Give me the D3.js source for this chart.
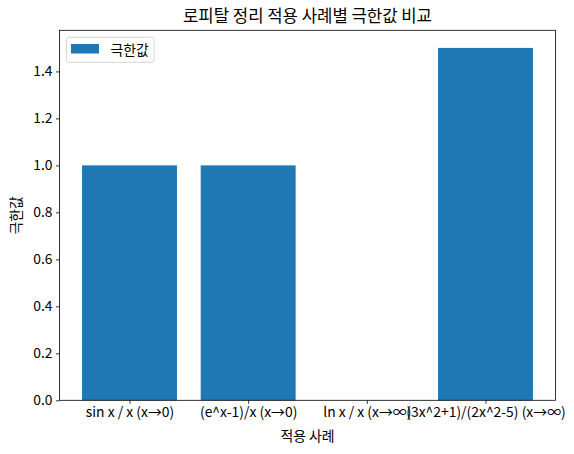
<!DOCTYPE html>
<html><head><meta charset="utf-8">
<script src="https://cdn.jsdelivr.net/npm/d3@7"></script>
<style>
body{margin:0;background:#fff;}
text{font-family:"Noto Sans CJK KR","Noto Sans",sans-serif;fill:#000;}
</style></head>
<body><svg id="c" width="574" height="454"></svg>
<script>
const categories = ["sin x / x (x→0)", "(e^x-1)/x (x→0)", "ln x / x (x→∞)", "(3x^2+1)/(2x^2-5) (x→∞)"];
const limitValues = [1.0, 1.0, 0.0, 1.5];
const yTicks = [0.0, 0.2, 0.4, 0.6, 0.8, 1.0, 1.2, 1.4];
const titleText = "로피탈 정리 적용 사례별 극한값 비교";
const xLabel = "적용 사례";
const yLabel = "극한값";
const legendLabel = "극한값";

const svg = d3.select("#c");
const L = 59.5, R = 555.5, T = 30.3, B = 400.3;
const fs = 13.9;
const x = d3.scaleLinear().domain([-0.59, categories.length - 1 + 0.59]).range([L, R]);
const y = d3.scaleLinear().domain([0, 1.575]).range([B, T]);
const bw = 0.8;
const color = "#1f77b4";

svg.append("g").selectAll("rect").data(limitValues).join("rect")
  .attr("x", (d,i) => x(i - bw/2)).attr("width", (d,i) => x(i + bw/2) - x(i - bw/2))
  .attr("y", d => y(d)).attr("height", d => y(0) - y(d)).attr("fill", color);

// axes
const yAxis = d3.axisLeft(y).tickValues(yTicks).tickFormat(d3.format(".1f")).tickSize(3.5).tickPadding(3.5);
const gy = svg.append("g").attr("transform", `translate(${L},0)`).call(yAxis);
const xAxis = d3.axisBottom(x).tickValues(d3.range(categories.length)).tickFormat(i => categories[i]).tickSize(3.5).tickPadding(3.5);
const gx = svg.append("g").attr("transform", `translate(0,${B})`).call(xAxis);
[gx, gy].forEach(g => {
  g.select(".domain").remove();
  g.selectAll("line").attr("stroke", "#000").attr("stroke-width", 0.8);
  g.selectAll("text").attr("font-size", fs).attr("font-family", '"Noto Sans CJK KR"');
});
// frame
svg.append("rect").attr("x", L).attr("y", T).attr("width", R - L).attr("height", B - T)
  .attr("fill", "none").attr("stroke", "#000").attr("stroke-width", 0.8);

// title and labels
svg.append("text").attr("x", (L+R)/2).attr("y", 22).attr("text-anchor", "middle").attr("font-size", 16.7).text(titleText);
svg.append("text").attr("x", (L+R)/2).attr("y", 441).attr("text-anchor", "middle").attr("font-size", fs).text(xLabel);
svg.append("text").attr("transform", `translate(21,${(T+B)/2}) rotate(-90)`).attr("text-anchor", "middle").attr("font-size", fs).text(yLabel);

// legend
const lg = svg.append("g");
lg.append("rect").attr("x", 66.5).attr("y", 37.3).attr("width", 87.5).attr("height", 25).attr("rx", 2.5)
  .attr("fill", "#fff").attr("fill-opacity", 0.8).attr("stroke", "#cccccc").attr("stroke-width", 0.8);
lg.append("rect").attr("x", 71).attr("y", 44).attr("width", 28).attr("height", 9.5).attr("fill", color);
lg.append("text").attr("x", 110.5).attr("y", 54.5).attr("font-size", fs).text(legendLabel);
</script></body></html>
